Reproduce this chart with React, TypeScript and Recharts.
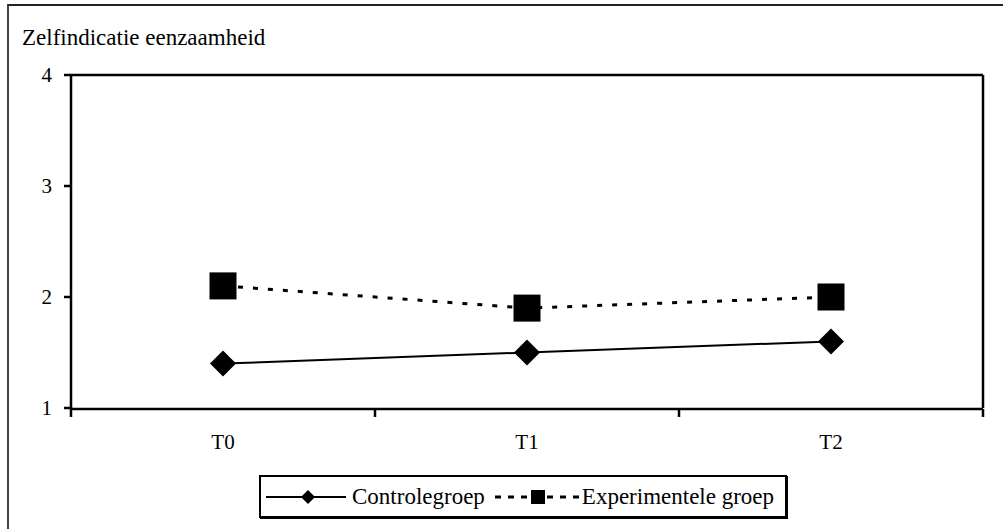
import { Line, LineChart, XAxis, YAxis } from "recharts";

const periods = ["T0", "T1", "T2"];
const controlValues = [1.4, 1.5, 1.6];
const experimentalValues = [2.1, 1.9, 2.0];
const yTicks = [1, 2, 3, 4];
// category boundaries on an index axis running 0..2
const edgeTicks = [0, 2 / 3, 4 / 3, 2];

const data = periods.map((p, i) => ({
  period: p,
  control: controlValues[i],
  experimental: experimentalValues[i],
}));

const font = "'Liberation Serif', 'Times New Roman', serif";
const axisStroke = { stroke: "#000", strokeWidth: 2.5 };

const Diamond = (props: any) => {
  const { cx, cy, index } = props;
  const r = 13;
  return (
    <path
      key={`d-${index}`}
      d={`M${cx},${cy - r}L${cx + r},${cy}L${cx},${cy + r}L${cx - r},${cy}Z`}
      fill="#000"
    />
  );
};

const Square = (props: any) => {
  const { cx, cy, index } = props;
  const s = 27;
  return (
    <rect key={`s-${index}`} x={cx - s / 2} y={cy - s / 2} width={s} height={s} fill="#000" />
  );
};

const NoLabel = () => <g />;

export default function App() {
  return (
    <div
      style={{
        position: "absolute",
        left: 0,
        top: 0,
        width: 1003,
        height: 529,
        background: "#fff",
        fontFamily: font,
      }}
    >
      <div
        style={{
          position: "absolute",
          left: 7,
          top: 4,
          right: 0,
          bottom: 0,
          borderLeft: "2px solid #444",
          borderTop: "2px solid #222",
        }}
      />
      <div
        style={{
          position: "absolute",
          left: 22,
          top: 26,
          fontSize: 23,
          lineHeight: "24px",
          color: "#000",
          fontFamily: font,
        }}
      >
        Zelfindicatie eenzaamheid
      </div>

      <div style={{ position: "absolute", left: 0, top: 0 }}>
        <LineChart
          width={1003}
          height={529}
          data={data}
          margin={{ top: 74, right: 19, bottom: 119, left: 70 }}
        >
          <XAxis
            dataKey="period"
            scale="band"
            height={1}
            tickLine={false}
            axisLine={false}
            tickSize={0}
            tickMargin={26}
            interval={0}
            tick={{ fill: "#000", fontSize: 21, fontFamily: font }}
          />
          <XAxis
            xAxisId="edge"
            type="number"
            domain={[0, 2]}
            ticks={edgeTicks}
            interval={0}
            allowDataOverflow
            height={1}
            tick={NoLabel}
            tickSize={8}
            axisLine={axisStroke}
            tickLine={axisStroke}
          />
          <XAxis
            xAxisId="top"
            orientation="top"
            type="number"
            domain={[0, 2]}
            allowDataOverflow
            height={1}
            tick={false}
            tickLine={false}
            axisLine={axisStroke}
          />
          <YAxis
            domain={[1, 4]}
            ticks={yTicks}
            width={1}
            tickSize={7}
            tickMargin={12}
            axisLine={axisStroke}
            tickLine={axisStroke}
            tick={{ fill: "#000", fontSize: 21, fontFamily: font }}
          />
          <YAxis
            yAxisId="right"
            orientation="right"
            domain={[1, 4]}
            width={1}
            tick={false}
            tickLine={false}
            axisLine={axisStroke}
          />
          <Line
            type="linear"
            dataKey="control"
            stroke="#000"
            strokeWidth={2}
            dot={Diamond}
            activeDot={false}
            isAnimationActive={false}
          />
          <Line
            type="linear"
            dataKey="experimental"
            stroke="#000"
            strokeWidth={3}
            strokeDasharray="5 10"
            dot={Square}
            activeDot={false}
            isAnimationActive={false}
          />
        </LineChart>
      </div>

      <div
        style={{
          position: "absolute",
          left: 259,
          top: 475,
          width: 524,
          height: 39,
          border: "2px solid #000",
          boxShadow: "1px 1px 0 #000",
          display: "flex",
          alignItems: "center",
          fontSize: 23,
          color: "#000",
        }}
      >
        <svg width={80} height={20} style={{ marginLeft: 5 }}>
          <line x1={0} y1={10} x2={80} y2={10} stroke="#000" strokeWidth={2} />
          <path d="M42,3L49,10L42,17L35,10Z" fill="#000" />
        </svg>
        <span style={{ marginLeft: 6 }}>Controlegroep</span>
        <svg width={84} height={20} style={{ marginLeft: 10 }}>
          <line
            x1={0}
            y1={10}
            x2={84}
            y2={10}
            stroke="#000"
            strokeWidth={3}
            strokeDasharray="6 7"
          />
          <rect x={36} y={3} width={14} height={14} fill="#000" />
        </svg>
        <span style={{ marginLeft: 3 }}>Experimentele groep</span>
      </div>
    </div>
  );
}
